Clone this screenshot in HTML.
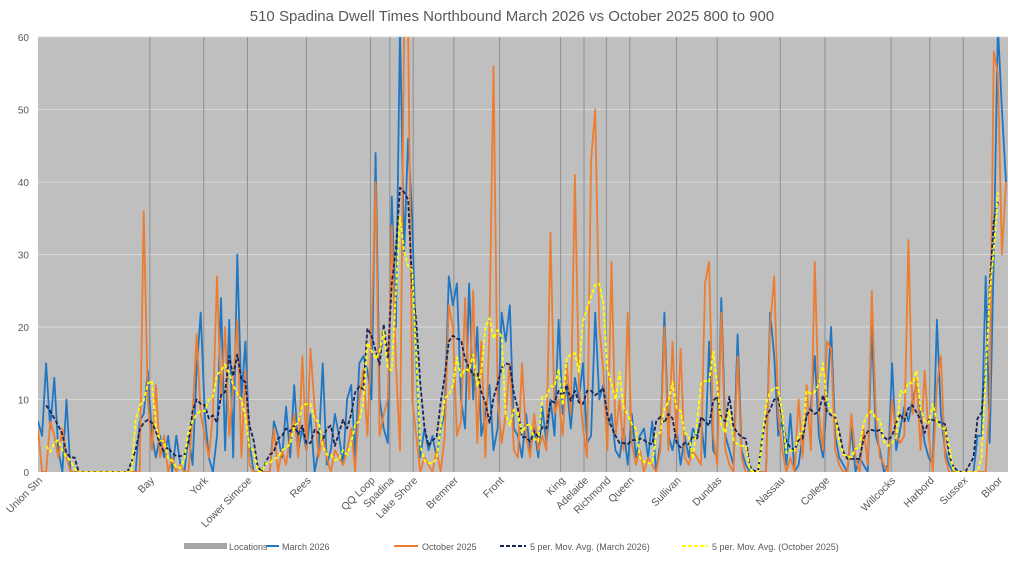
<!DOCTYPE html>
<html><head><meta charset="utf-8">
<style>
html,body{margin:0;padding:0;background:#fff;}
body{width:1024px;height:559px;overflow:hidden;font-family:"Liberation Sans",sans-serif;}
text{font-family:"Liberation Sans",sans-serif;fill:#595959;}
</style></head>
<body>
<svg id="chart" width="1024" height="559" xmlns="http://www.w3.org/2000/svg">
<text x="512" y="21" text-anchor="middle" font-size="15">510 Spadina Dwell Times Northbound March 2026 vs October 2025 800 to 900</text>
<rect x="38" y="37" width="970" height="435" fill="#bfbfbf"/>
<g id="grid"></g><g id="locs"></g><g id="series"></g><g id="yaxis"></g><g id="xaxis"></g>
<g font-size="9">
 <g><rect x="184" y="543" width="43" height="6" fill="#a6a6a6"/><text x="229" y="550">Locations</text></g>
 <g><line x1="266" y1="546" x2="279" y2="546" stroke="#1f77c4" stroke-width="2"/><text x="282" y="550">March 2026</text></g>
 <g><line x1="394" y1="546" x2="418" y2="546" stroke="#ed7d31" stroke-width="2"/><text x="422" y="550">October 2025</text></g>
 <g><line x1="500" y1="546" x2="526" y2="546" stroke="#1a2456" stroke-width="2" stroke-dasharray="4,2"/><text x="530" y="550">5 per. Mov. Avg. (March 2026)</text></g>
 <g><line x1="682" y1="546" x2="708" y2="546" stroke="#ffff00" stroke-width="2" stroke-dasharray="4,2"/><text x="712" y="550">5 per. Mov. Avg. (October 2025)</text></g>
</g>
</svg>
<script>
const march=[7,5,15,6,13,3,0,10,0, 0,0,0,0,0,0,0,0,0,0,0,0,0,0,0,0,
7,8,14,5,2,5, 2,5,0,5,1,0,5, 1,14,22,8,2, 0,5,24,3,21,2,30,10,18, 4,0,0,0,0,0,
7,5,2,9,2,12,3,6, 3,8,0,3,15,1,3,8,5, 1,10,12,2,15,16,14, 10,44,10,6,4,38,20,62,30,46,35,15,
2,6,3,5,2,6,8, 27,23,26,10,6,26,10,20,5,8,12,3,6, 22,18,23,6,5,2,8,3,6,2,9,4,10,5,21,8,12,6,13,10,15,4,5,22,10,12,6,8,3,2,6,1,8,2,5,6,2,7,0,4,22,5,3,6,1,5,2,6,5,7,2,18,3,2,24,5,3,1,19,3,1,
0,0,0,0,0,22,16,5,7,1,8,0,1,5,8,9,16,5,2,10,20,5,2,1,0,6,0,2,1,0,20,5,3,0,1,15,3,6,9,7,10,12,8,4,2,1,21,8,3,1,
0,0,0,0,0,0,5,5,27,4,30,62,50,40];
const october=[6,0,0,7,5,2,6,2,0, 0,0,0,0,0,0,0,0,0,0,0,0,0,0,0,0,
0,36,10,3,12,2, 5,0,2,0,1,0,0, 8,19,8,5,2, 8,27,10,20,5,12,21,2,14, 1,0,0,0,0,0,
6,0,3,1,5,8,2,16, 3,17,9,2,5,2,0,3,2, 1,3,6,0,10,14,5, 20,40,5,8,10,34,15,3,62,62,10,5,
0,2,1,0,3,0,5, 23,20,5,7,24,10,25,4,18,2,20,56,10, 4,8,15,3,2,15,5,2,8,3,5,3,33,8,10,5,15,8,41,12,6,2,43,50,20,14,3,29,5,10,3,22,4,1,3,0,2,1,0,3,20,3,18,4,17,2,1,3,2,1,26,29,5,1,22,3,1,0,16,2,0,
0,0,0,0,0,20,27,8,3,0,2,0,10,2,12,3,29,8,3,18,17,3,1,0,0,8,2,0,6,1,25,8,2,1,0,10,5,4,5,32,8,13,3,14,5,0,12,16,2,0,
0,0,0,0,0,0,0,0,0,10,58,55,30,40];
const yTicks=[0,10,20,30,40,50,60];
const locNames=["Union Stn","Bay","York","Lower Simcoe","Rees","QQ Loop","Spadina","Lake Shore","Bremner","Front","King","Adelaide","Richmond","Queen","Sullivan","Dundas","Nassau","College","Willcocks","Harbord","Sussex","Bloor"];
const locIdx=[0,27.5,40.75,51.5,66,81.75,86.5,92.25,102.25,113.5,128.5,134.25,139.75,145.5,157,167,182.5,193.5,209.75,219.25,227.5,239.75];

const NS="http://www.w3.org/2000/svg";
const X0=38,X1=1008,Y0=472,Y1=37,YMAX=60;
const N=Math.max(march.length,october.length);
const xs=i=>X0+i*(X1-X0-2)/(N-1);
const ys=v=>Y0-Math.min(v,YMAX+1.5)/YMAX*(Y0-Y1);
function mk(tag,attrs,parent){const e=document.createElementNS(NS,tag);for(const k in attrs)e.setAttribute(k,attrs[k]);parent.appendChild(e);return e;}
const g=document.getElementById('grid');
yTicks.forEach(t=>{if(t===0)return;
 const l=mk('line',{x1:X0,x2:X1,y1:ys(t),y2:ys(t),stroke:'#d9d9d9','stroke-width':1},g);
 
 });
const ya=document.getElementById('yaxis');
yTicks.forEach(t=>{const e=mk('text',{x:29,y:ys(t)+4,'text-anchor':'end','font-size':10},ya);e.textContent=t;
 
 });
const lg=document.getElementById('locs'),xa=document.getElementById('xaxis');
locNames.forEach((n,k)=>{const x=Math.min(xs(locIdx[k]),998);
 if(k>0 && k<locNames.length-1){const l=mk('line',{x1:x,x2:x,y1:Y1,y2:Y0,stroke:'#8f8f8f','stroke-width':1},lg);
 
 }
 const t=mk('text',{x:x+5,y:481,'text-anchor':'end','font-size':10.5,transform:`rotate(-45 ${x+5} 481)`},xa);t.textContent=n;
 
 });
function ma(a){const r=[];for(let i=4;i<a.length;i++){r.push([i-2,(a[i]+a[i-1]+a[i-2]+a[i-3]+a[i-4])/5]);}return r;}
const sg=document.getElementById('series');
function line(pts,attrs,name){const p=mk('path',Object.assign({d:'M'+pts.map(q=>xs(q[0]).toFixed(1)+','+ys(q[1]).toFixed(1)).join('L'),fill:'none','stroke-linejoin':'round'},attrs),sg);
 
 }
const cp=mk('clipPath',{id:'clip'},sg);mk('rect',{x:X0,y:Y1,width:X1-X0,height:Y0-Y1},cp);
sg.setAttribute('clip-path','url(#clip)');
line(march.map((v,i)=>[i,v]),{stroke:'#1f77c4','stroke-width':1.8},'series-march-2026');
line(october.map((v,i)=>[i,v]),{stroke:'#ed7d31','stroke-width':1.8},'series-october-2025');
line(ma(march),{stroke:'#1a2456','stroke-width':1.8,'stroke-dasharray':'4,2'},'series-ma-march-2026');
line(ma(october),{stroke:'#ffff00','stroke-width':1.8,'stroke-dasharray':'4,2'},'series-ma-october-2025');
</script>
</body></html>
